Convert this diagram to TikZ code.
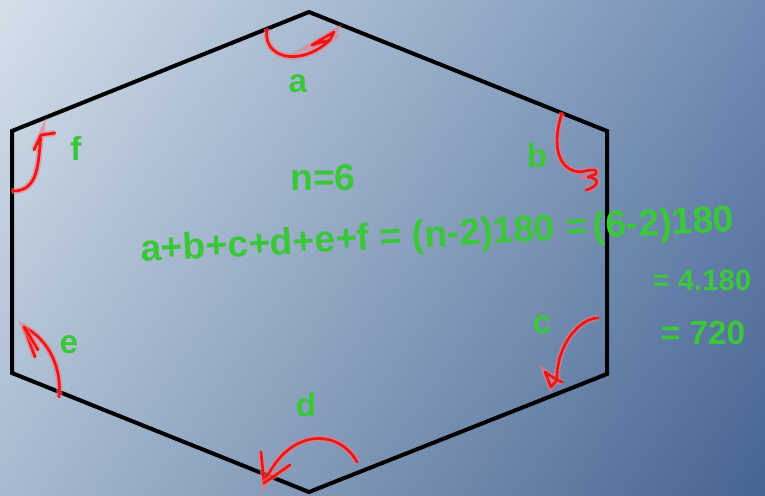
\documentclass[tikz,border=0pt]{standalone}
\usetikzlibrary{shadings}
\usepackage{fontspec}
\setmainfont{Liberation Sans}
\definecolor{bgUL}{RGB}{212,223,233}
\definecolor{bgUR}{RGB}{112,140,180}
\definecolor{bgLL}{RGB}{168,186,208}
\definecolor{bgLR}{RGB}{70,100,145}
\definecolor{pen}{RGB}{58,200,58}
\definecolor{ink}{RGB}{240,20,20}
\definecolor{inkhalo}{RGB}{240,120,130}
\tikzset{
  hexline/.style={draw=black, line width=3pt, line join=miter},
  arcline/.style={draw=ink, line width=2pt, line cap=round, line join=round,
    preaction={draw=inkhalo, line width=4.5pt, opacity=0.6}},
  hand/.style={text=pen, inner sep=0pt, font=\bfseries\fontsize{25}{27}\selectfont},
  handeq/.style={hand, rotate=3, font=\bfseries\fontsize{28}{30}\selectfont},
}
\begin{document}
\begin{tikzpicture}[x=0.75pt,y=-0.75pt]
\useasboundingbox (0,0) rectangle (765,496);
\shade[upper left=bgUL, upper right=bgUR, lower left=bgLL, lower right=bgLR] (0,0) rectangle (765,496);
% hexagon
\coordinate (T) at (309,12);
\coordinate (UR) at (607,131);
\coordinate (LR) at (607,374);
\coordinate (B) at (309,492);
\coordinate (LL) at (12,373);
\coordinate (UL) at (12,131);
\draw[hexline] (T) -- (UR) -- (LR) -- (B) -- (LL) -- (UL) -- cycle;
% angle a
\coordinate (a0) at (267,29);
\coordinate (a1) at (330,40);
\draw[arcline] (a0) .. controls (262,58) and (300,68) .. (a1) -- (312,45) -- (334,32) -- (330,40);
% angle b
\coordinate (b0) at (562,113);
\coordinate (b1) at (580,172);
\draw[arcline] (b0) .. controls (553,140) and (555,170) .. (b1)
  .. controls (590,170) and (598,168) .. (596,174) -- (588,177)
  .. controls (600,178) and (600,186) .. (586,190);
% angle c
\coordinate (c0) at (598,318);
\coordinate (c1) at (557,380);
\draw[arcline] (c0) .. controls (580,318) and (556,345) .. (c1) -- (545,372) -- (551,387) -- (557,380) -- (562,382);
% angle d
\coordinate (d0) at (357,462);
\coordinate (d1) at (264,483);
\draw[arcline] (d0) .. controls (340,430) and (290,425) .. (d1) -- (261,452);
\draw[arcline] (d1) -- (290,465);
% angle e
\coordinate (e0) at (59,397);
\coordinate (e1) at (24,327);
\draw[arcline] (e0) .. controls (62,370) and (50,340) .. (e1) -- (35,357);
\draw[arcline] (e1) -- (28,333) -- (38,350);
% angle f
\coordinate (f0) at (12,191);
\coordinate (f1) at (41,135);
\draw[arcline] (f0) .. controls (40,192) and (38,160) .. (f1) -- (34,150);
\draw[arcline] (f1) -- (55,133);
% labels
\node[hand] (la) at (298,84) {a};
\node[hand] (lb) at (537,156) {b};
\node[hand] (lc) at (542,325) {c};
\node[hand] (ld) at (306,405) {d};
\node[hand] (le) at (69,345) {e};
\node[hand] (lf) at (76,148) {f};
% equations
\node[hand, font=\bfseries\fontsize{28}{30}\selectfont] (n6) at (323,178) {n=6};
\node[handeq, anchor=base west] (eqa) at (141,262) {a+b+c+d+e+f = (n-2)180 =};
\node[handeq, anchor=base west, text depth=2pt] (eqb) at ([xshift=4pt]eqa.base east) {(6-2)180};
\node[hand, font=\bfseries\fontsize{22}{24}\selectfont, anchor=base, text height=16pt, text depth=0pt] (eq2) at (702,290) {= 4.180};
\node[hand] (eq3) at (703,333) {= 720};
\end{tikzpicture}
\end{document}
